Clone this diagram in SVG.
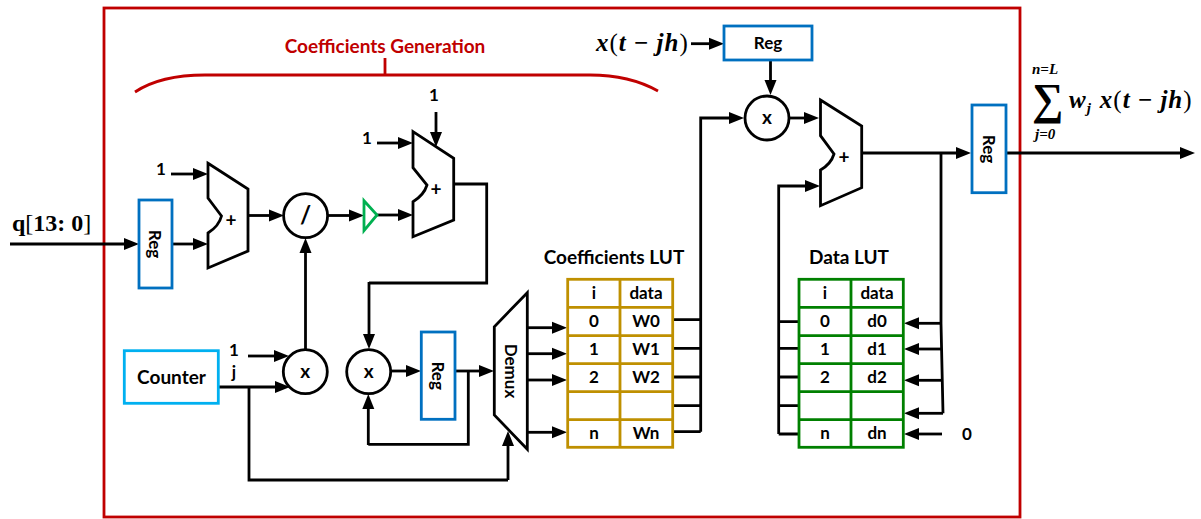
<svg xmlns="http://www.w3.org/2000/svg" width="1201" height="519" viewBox="0 0 1201 519">
<style>
.s{fill:#fff;stroke:#000;stroke-width:2.800;stroke-linejoin:miter}
.c{fill:none;stroke:#000;stroke-width:2.800;stroke-linejoin:miter}
.a{marker-end:url(#ah)}
.reg{fill:#fff;stroke:#0070C0;stroke-width:2.800}
.t{font-family:Lato,"Liberation Sans",sans-serif;font-weight:700;font-size:17px;fill:#000;text-anchor:middle}
.h{font-size:19px}
.m{font-family:"Liberation Serif","DejaVu Serif",serif;font-weight:700;fill:#000}
.e{font-size:25px;letter-spacing:1px}
.r{font-weight:400}
.i{font-style:italic}
.gold{fill:#fff;stroke:#BF9000;stroke-width:2.800}
.green{fill:#fff;stroke:#008000;stroke-width:2.800}
</style>
<defs>
<marker id="ah" markerUnits="userSpaceOnUse" markerWidth="16" markerHeight="14" refX="4" refY="7" orient="auto" viewBox="0 0 16 14">
<path d="M0 1L15 7L0 13Z" fill="#000"/>
</marker>
</defs>
<rect id="frame" x="104" y="8" width="916" height="509" fill="#fff" stroke="#C00000" stroke-width="2.800"/>
<g id="brace">
<path d="M135 92C150 82 172 75 205 75L590 75C620 75 642 82 658 91M385 58V75" fill="none" stroke="#C00000" stroke-width="2.800"/>
<text x="385" y="53" class="t h" style="fill:#C00000">Coefficients Generation</text>
</g>
<g id="connectors">
<path class="c a" d="M10 244H128"/>
<path class="c a" d="M172 244H197"/>
<path class="c a" d="M171 174H197"/>
<path class="c a" d="M248 215.500H273"/>
<path class="c a" d="M328 215.500H353"/>
<path class="c a" d="M377 215H402"/>
<path class="c a" d="M377 143H402"/>
<path class="c a" d="M436 112V136"/>
<path class="c a" d="M305.500 350V249"/>
<path class="c a" d="M248 356H278"/>
<path class="c a" d="M218 387H279"/>
<path class="c" d="M249 387V480H508"/>
<path class="c a" d="M508 480V442"/>
<path class="c" d="M454 184H486.700V283H369"/>
<path class="c a" d="M369 282V338"/>
<path class="c a" d="M391 371H410"/>
<path class="c a" d="M455 371H483"/>
<path class="c" d="M468.300 371V444.300H368.300"/>
<path class="c a" d="M368.300 445V405"/>
<path class="c a" d="M527 327.700H556"/>
<path class="c a" d="M527 353.700H556"/>
<path class="c a" d="M527 380H556"/>
<path class="c a" d="M527 432.300H556"/>
<path class="c" d="M673 319.700H700.700M673 348.300H700.700M673 377H700.700M673 405.700H700.700M672 431.700H700.700"/>
<path class="c a" d="M700.700 431.700V118H733"/>
<path class="c a" d="M691 43.700H713"/>
<path class="c a" d="M770.500 60V84"/>
<path class="c a" d="M789 118H808"/>
<path class="c a" d="M778.700 434V186H809"/>
<path class="c" d="M778.700 321.700H799M778.700 348.300H799M778.700 377H799M778.700 405.700H799M778.700 434H799"/>
<path class="c a" d="M862 153H960"/>
<path class="c a" d="M1006 153H1184"/>
<path class="c" d="M941 153V323.300L943 413.300"/>
<path class="c a" d="M941 323.300H915"/>
<path class="c a" d="M941 349H915"/>
<path class="c a" d="M942 380.300H915"/>
<path class="c a" d="M943 413.300H915"/>
<path class="c a" d="M942 434H915"/>
</g>
<g id="reg1"><rect class="reg" x="139" y="200" width="33" height="88"/><text class="t" transform="translate(149 244) rotate(90)">Reg</text></g>
<g id="adder1"><path class="s" d="M208 163.300L248 189V251L208 268V233Q219 226 221.500 216L208 198Z"/><text class="t" x="231" y="227" style="font-size:19px">+</text></g>
<g id="divide"><circle class="s" cx="305.600" cy="215.700" r="22"/><text class="t" x="305.600" y="224" style="font-size:24px">/</text></g>
<g id="buffer"><path d="M364 200.700L377 215L364 230.700Z" fill="#fff" stroke="#00B050" stroke-width="2.800"/></g>
<g id="adder2"><path class="s" d="M413 131.700L453.700 158.300V220L413 236.700V201.700Q424 195 427 185L413 167.700Z"/><text class="t" x="436" y="196" style="font-size:19px">+</text></g>
<g id="mul1"><circle class="s" cx="305.300" cy="371.700" r="22"/><text class="t" x="305.300" y="378" style="font-size:19px">x</text></g>
<g id="mul2"><circle class="s" cx="368.700" cy="371.700" r="22"/><text class="t" x="368.700" y="378" style="font-size:19px">x</text></g>
<g id="reg2"><rect class="reg" x="421.300" y="332" width="33.700" height="87.300"/><text class="t" transform="translate(432 375.700) rotate(90)">Reg</text></g>
<g id="counter"><rect x="124.300" y="350.700" width="94" height="52.600" fill="#fff" stroke="#00B0F0" stroke-width="2.800"/><text class="t" x="171.500" y="384" style="font-size:19px">Counter</text></g>
<g id="demux"><path class="s" d="M527.300 292.700V449.300L494.300 415V326.700Z"/><text class="t" transform="translate(505 371) rotate(90)">Demux</text></g>
<g id="coefficients-lut">
<text class="t h" x="614" y="264">Coefficients LUT</text>
<rect class="gold" x="567.700" y="279.300" width="105" height="168"/>
<path d="M620 279.300V447.300M567.700 307.300H672.700M567.700 335.700H672.700M567.700 363.700H672.700M567.700 391.700H672.700M567.700 419.700H672.700" fill="none" stroke="#BF9000" stroke-width="2.800"/>
<text class="t" x="594" y="299">i</text><text class="t" x="646" y="299">data</text>
<text class="t" x="594" y="327">0</text><text class="t" x="646" y="327">W0</text>
<text class="t" x="594" y="355">1</text><text class="t" x="646" y="355">W1</text>
<text class="t" x="594" y="383">2</text><text class="t" x="646" y="383">W2</text>
<text class="t" x="594" y="439">n</text><text class="t" x="646" y="439">Wn</text>
</g>
<g id="data-lut">
<text class="t h" x="849" y="264">Data LUT</text>
<rect class="green" x="799" y="279.300" width="104.300" height="168"/>
<path d="M851 279.300V447.300M799 307.300H903.300M799 335.700H903.300M799 363.700H903.300M799 391.700H903.300M799 419.700H903.300" fill="none" stroke="#008000" stroke-width="2.800"/>
<text class="t" x="825" y="299">i</text><text class="t" x="877" y="299">data</text>
<text class="t" x="825" y="327">0</text><text class="t" x="877" y="327">d0</text>
<text class="t" x="825" y="355">1</text><text class="t" x="877" y="355">d1</text>
<text class="t" x="825" y="383">2</text><text class="t" x="877" y="383">d2</text>
<text class="t" x="825" y="439">n</text><text class="t" x="877" y="439">dn</text>
</g>
<g id="reg3"><rect class="reg" x="724" y="26" width="88" height="34"/><text class="t" x="768" y="49">Reg</text></g>
<g id="mul3"><circle class="s" cx="767" cy="118" r="22"/><text class="t" x="767" y="124" style="font-size:19px">x</text></g>
<g id="adder3"><path class="s" d="M820.500 100L861.700 126V187.700L820.500 205.700V170Q831 164 834 154L820.500 135.700Z"/><text class="t" x="844" y="164" style="font-size:19px">+</text></g>
<g id="reg4"><rect class="reg" x="972" y="105" width="34" height="87.700"/><text class="t" transform="translate(983 149) rotate(90)">Reg</text></g>
<g id="labels">
<text class="t" x="161" y="175">1</text>
<text class="t" x="434" y="101">1</text>
<text class="t" x="367" y="144">1</text>
<text class="t" x="234" y="356">1</text>
<text class="t" x="234" y="378">j</text>
<text class="t" x="967" y="440">0</text>
<text class="m" x="12" y="231" style="font-size:24px"><tspan>q</tspan><tspan class="r">[</tspan>13: 0<tspan class="r">]</tspan></text>
<text class="m e" x="596" y="51"><tspan class="i">x</tspan><tspan class="r">(</tspan><tspan class="i">t</tspan> − <tspan class="i">jh</tspan><tspan class="r">)</tspan></text>
<text class="m i" x="1032" y="74" style="font-size:15px">n=L</text>
<text class="m" x="1032" y="114" style="font-size:44px">∑</text>
<text class="m i" x="1035" y="139" style="font-size:15px">j=0</text>
<text class="m e" x="1069" y="108"><tspan class="i">w</tspan><tspan class="i" dy="5" style="font-size:15px">j</tspan><tspan dy="-5" dx="8" class="i">x</tspan><tspan class="r">(</tspan><tspan class="i">t</tspan> − <tspan class="i">jh</tspan><tspan class="r">)</tspan></text>
</g>
</svg>
